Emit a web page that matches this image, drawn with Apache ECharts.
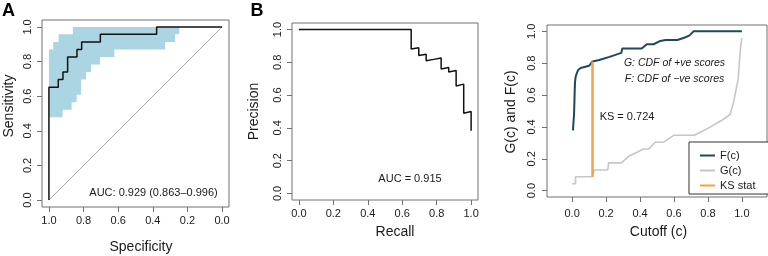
<!DOCTYPE html>
<html><head><meta charset="utf-8">
<script src="https://cdn.jsdelivr.net/npm/echarts@6/dist/echarts.min.js"></script>
<style>html,body{margin:0;padding:0;background:#fff}#c{width:768px;height:256px}</style>
</head><body><div id="c"></div>
<script>
// ---------- Panel A: ROC curve (specificity vs sensitivity) ----------
const rocSpec = [1.0, 1.0, 0.946, 0.946, 0.919, 0.919, 0.892, 0.892, 0.838, 0.838, 0.811, 0.811, 0.703, 0.703, 0.378, 0.378, 0.0];
const rocSens = [0.0, 0.652, 0.652, 0.696, 0.696, 0.739, 0.739, 0.826, 0.826, 0.870, 0.870, 0.913, 0.913, 0.957, 0.957, 1.0, 1.0];
// confidence band (polygon outline, upper edge then lower edge)
const ciSpec = [1.0, 0.975, 0.975, 0.944, 0.944, 0.862, 0.862, 0.247, 0.247, 0.272, 0.272, 0.329, 0.329, 0.622, 0.622, 0.705, 0.705, 0.757, 0.757, 0.786, 0.786, 0.815, 0.815, 0.840, 0.840, 0.869, 0.869, 0.921, 0.921, 1.0];
const ciSens = [0.870, 0.870, 0.913, 0.913, 0.957, 0.957, 1.0, 1.0, 0.957, 0.957, 0.913, 0.913, 0.870, 0.870, 0.826, 0.826, 0.783, 0.783, 0.739, 0.739, 0.696, 0.696, 0.609, 0.609, 0.565, 0.565, 0.522, 0.522, 0.478, 0.478];
const chanceSpec = [1.0, 0.0];
const chanceSens = [0.0, 1.0];
const aucTextA = 'AUC: 0.929 (0.863\u20130.996)';

// ---------- Panel B: precision-recall ----------
const recall    = [0.0, 0.652, 0.652, 0.696, 0.696, 0.739, 0.739, 0.783, 0.826, 0.826, 0.870, 0.870, 0.913, 0.913, 0.957, 0.957, 1.0, 1.0];
const precision = [1.0, 1.0, 0.882, 0.889, 0.842, 0.850, 0.810, 0.818, 0.826, 0.760, 0.769, 0.741, 0.750, 0.656, 0.667, 0.489, 0.500, 0.383];
const aucTextB = 'AUC = 0.915';

// ---------- Panel C: KS plot ----------
const cutF = [0.005, 0.008, 0.011, 0.013, 0.015, 0.017, 0.020, 0.025, 0.035, 0.050, 0.100, 0.120, 0.160, 0.220, 0.290, 0.295, 0.410, 0.440, 0.480, 0.520, 0.550, 0.620, 0.660, 0.690, 0.715, 1.0];
const cdfF = [0.378, 0.430, 0.470, 0.540, 0.620, 0.680, 0.710, 0.730, 0.757, 0.770, 0.784, 0.811, 0.820, 0.840, 0.865, 0.892, 0.892, 0.919, 0.919, 0.940, 0.946, 0.946, 0.960, 0.973, 1.0, 1.0];
const cutG = [0.0, 0.020, 0.020, 0.120, 0.130, 0.210, 0.215, 0.290, 0.335, 0.380, 0.420, 0.450, 0.490, 0.540, 0.600, 0.720, 0.800, 0.880, 0.930, 0.950, 0.965, 0.978, 0.985, 0.992, 1.0];
const cdfG = [0.043, 0.043, 0.087, 0.087, 0.130, 0.130, 0.174, 0.174, 0.217, 0.240, 0.261, 0.261, 0.304, 0.304, 0.348, 0.348, 0.391, 0.440, 0.478, 0.550, 0.630, 0.700, 0.800, 0.900, 0.957];
const ksCut = [0.12, 0.12];
const ksVal = [0.087, 0.811];
const ksText = 'KS = 0.724';
const noteG = 'G: CDF of +ve scores';
const noteF = 'F: CDF of \u2212ve scores';
const legendNames = ['F(c)', 'G(c)', 'KS stat'];

const tickVals = [0, 0.2, 0.4, 0.6, 0.8, 1.0];

const FONT = '"Liberation Sans", Arial, Helvetica, sans-serif';
const BOX = '#707070';
const TXT = '#1a1a1a';
const zip = (a, b) => a.map((v, i) => [v, b[i]]);

function mkAxis(gi, type, min, max, inverse, margin) {
  const isY = type === 'y';
  return {
    type: 'value', gridIndex: gi, min: min, max: max, inverse: !!inverse,
    position: isY ? 'left' : 'bottom',
    axisLine: { show: false, onZero: false },
    splitLine: { show: false },
    axisTick: { show: true, customValues: tickVals, length: 5, lineStyle: { color: BOX, width: 1 } },
    axisLabel: {
      customValues: tickVals, margin: margin, rotate: isY ? 90 : 0,
      fontFamily: FONT, fontSize: 11, color: TXT,
      formatter: v => v.toFixed(1)
    }
  };
}

const gridBase = { show: true, borderColor: BOX, borderWidth: 1, backgroundColor: 'transparent', containLabel: false };

const option = {
  animation: false,
  backgroundColor: '#fff',
  grid: [
    Object.assign({ left: 42, top: 20, width: 187, height: 187 }, gridBase),
    Object.assign({ left: 292, top: 23, width: 186, height: 177 }, gridBase),
    Object.assign({ left: 547, top: 25, width: 220, height: 172 }, gridBase)
  ],
  xAxis: [
    mkAxis(0, 'x', -0.04, 1.04, true, 8),
    mkAxis(1, 'x', -0.04, 1.04, false, 8),
    mkAxis(2, 'x', -0.148, 1.148, false, 11)
  ],
  yAxis: [
    mkAxis(0, 'y', -0.04, 1.04, false, 9),
    mkAxis(1, 'y', -0.04, 1.04, false, 9),
    mkAxis(2, 'y', -0.04, 1.04, false, 10)
  ],
  legend: {
    data: legendNames,
    orient: 'vertical', left: 689, top: 142,
    itemWidth: 15, itemHeight: 12, itemGap: 4,
    padding: [8, 16, 3, 10],
    borderColor: '#333', borderWidth: 1, borderRadius: 0,
    backgroundColor: '#fff',
    itemStyle: { color: 'rgba(0,0,0,0)', borderColor: 'rgba(0,0,0,0)', borderWidth: 0 },
    textStyle: { fontFamily: FONT, fontSize: 11, color: TXT },
    selectedMode: false
  },
  series: [
    {
      type: 'custom', name: 'ci', xAxisIndex: 0, yAxisIndex: 0, z: 1,
      data: [[0.5, 0.5]],
      renderItem: function (params, api) {
        const pts = ciSpec.map((s, i) => api.coord([s, ciSens[i]]));
        return { type: 'polygon', shape: { points: pts }, style: { fill: '#abd5e2', stroke: null } };
      }
    },
    {
      type: 'line', name: 'chance', xAxisIndex: 0, yAxisIndex: 0, z: 2,
      data: zip(chanceSpec, chanceSens), symbol: 'none',
      lineStyle: { color: '#a8a8a8', width: 1 }
    },
    {
      type: 'line', name: 'roc', xAxisIndex: 0, yAxisIndex: 0, z: 3,
      data: zip(rocSpec, rocSens), symbol: 'none',
      lineStyle: { color: '#111', width: 1.5 }
    },
    {
      type: 'line', name: 'pr', xAxisIndex: 1, yAxisIndex: 1, z: 3,
      data: zip(recall, precision), symbol: 'none',
      lineStyle: { color: '#111', width: 1.5 }
    },
    {
      type: 'line', name: 'G(c)', xAxisIndex: 2, yAxisIndex: 2, z: 2,
      data: zip(cutG, cdfG), symbol: 'none',
      lineStyle: { color: '#c6c6c6', width: 1.6 }, itemStyle: { color: '#c6c6c6' }
    },
    {
      type: 'line', name: 'F(c)', xAxisIndex: 2, yAxisIndex: 2, z: 3,
      data: zip(cutF, cdfF), symbol: 'none',
      lineStyle: { color: '#1f4a55', width: 2 }, itemStyle: { color: '#1f4a55' }
    },
    {
      type: 'line', name: 'KS stat', xAxisIndex: 2, yAxisIndex: 2, z: 4,
      data: zip(ksCut, ksVal), symbol: 'none',
      lineStyle: { color: '#f5a04a', width: 2.5 }, itemStyle: { color: '#f5a04a' }
    }
  ],
  graphic: [
    { type: 'text', x: 8.5, y: 11, style: { text: 'A', font: 'bold 18px ' + FONT, fill: '#000', align: 'center', verticalAlign: 'middle' } },
    { type: 'text', x: 257, y: 11, style: { text: 'B', font: 'bold 18px ' + FONT, fill: '#000', align: 'center', verticalAlign: 'middle' } },
    { type: 'text', x: 141, y: 247.5, style: { text: 'Specificity', font: '14px ' + FONT, fill: TXT, align: 'center', verticalAlign: 'middle' } },
    { type: 'text', x: 9, y: 106, rotation: Math.PI / 2, style: { text: 'Sensitivity', font: '14px ' + FONT, fill: TXT, align: 'center', verticalAlign: 'middle' } },
    { type: 'text', x: 254, y: 111.5, rotation: Math.PI / 2, style: { text: 'Precision', font: '14px ' + FONT, fill: TXT, align: 'center', verticalAlign: 'middle' } },
    { type: 'text', x: 395, y: 232, style: { text: 'Recall', font: '14px ' + FONT, fill: TXT, align: 'center', verticalAlign: 'middle' } },
    { type: 'text', x: 511, y: 112, rotation: Math.PI / 2, style: { text: 'G(c) and F(c)', font: '14px ' + FONT, fill: TXT, align: 'center', verticalAlign: 'middle' } },
    { type: 'text', x: 658.5, y: 232, style: { text: 'Cutoff (c)', font: '14px ' + FONT, fill: TXT, align: 'center', verticalAlign: 'middle' } },
    { type: 'text', x: 153.5, y: 193, style: { text: aucTextA, font: '11px ' + FONT, fill: TXT, align: 'center', verticalAlign: 'middle' } },
    { type: 'text', x: 410, y: 178.5, style: { text: aucTextB, font: '11px ' + FONT, fill: TXT, align: 'center', verticalAlign: 'middle' } },
    { type: 'text', x: 674.5, y: 63.5, style: { text: noteG, font: 'italic 10.5px ' + FONT, fill: TXT, align: 'center', verticalAlign: 'middle' } },
    { type: 'text', x: 674.5, y: 79.5, style: { text: noteF, font: 'italic 10.5px ' + FONT, fill: TXT, align: 'center', verticalAlign: 'middle' } },
    { type: 'text', x: 627, y: 117, style: { text: ksText, font: '11px ' + FONT, fill: TXT, align: 'center', verticalAlign: 'middle' } }
  ]
};

const chart = echarts.init(document.getElementById('c'), null, { renderer: 'canvas', width: 768, height: 256 });
chart.setOption(option);
</script>
</body></html>
